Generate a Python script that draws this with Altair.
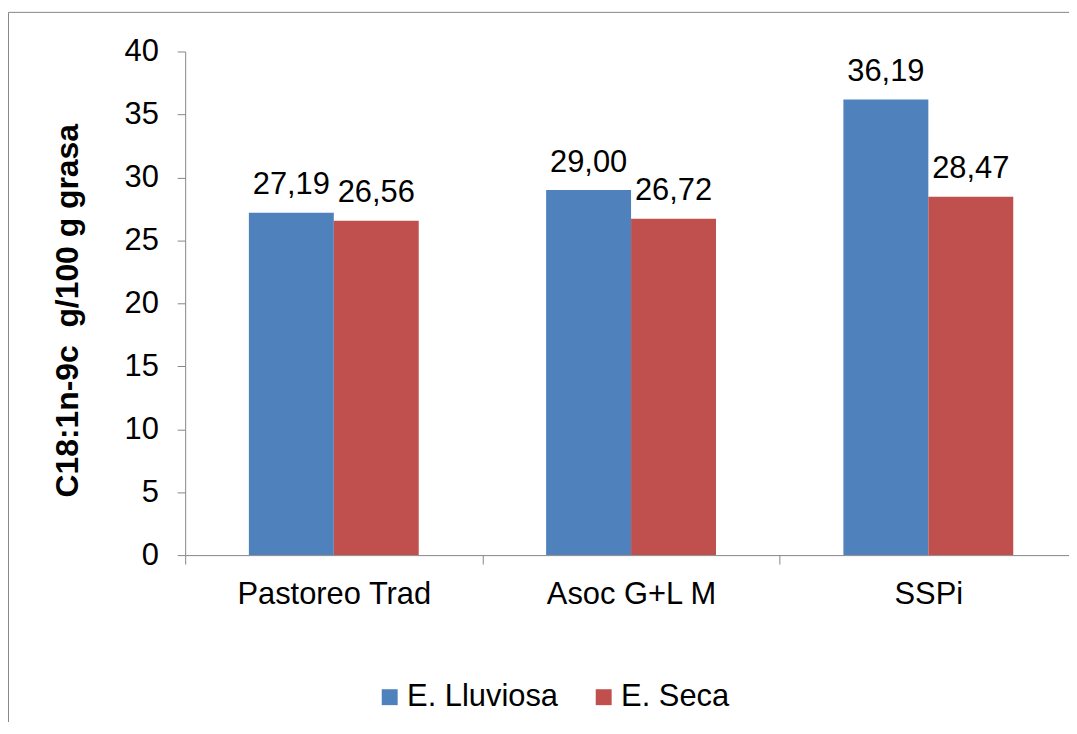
import altair as alt
import pandas as pd

categories = ["Pastoreo Trad", "Asoc G+L M", "SSPi"]
series = ["E. Lluviosa", "E. Seca"]
lluviosa = [27.19, 29.00, 36.19]
seca = [26.56, 26.72, 28.47]
colors = ["#4F81BD", "#C0504D"]
y_ticks = [0, 5, 10, 15, 20, 25, 30, 35, 40]
y_title = "C18:1n-9c\u00a0 g/100 g grasa"

rows = []
for c, a, b in zip(categories, lluviosa, seca):
    rows.append({"cat": c, "serie": series[0], "val": a})
    rows.append({"cat": c, "serie": series[1], "val": b})
df = pd.DataFrame(rows)
df["label"] = df["val"].map(lambda v: f"{v:.2f}".replace(".", ","))

FONT = "Liberation Sans"
GRAY = "#868686"

x_enc = alt.X(
    "cat:N",
    sort=categories,
    scale=alt.Scale(paddingInner=0, paddingOuter=0),
    axis=alt.Axis(
        title=None,
        tickBand="extent",
        labelAngle=0,
        labelFontSize=31,
        labelFont=FONT,
        labelColor="black",
        labelPadding=16,
        labelBaseline="top",
        labelLimit=400,
        tickSize=9,
        domainColor=GRAY,
        tickColor=GRAY,
        grid=False,
    ),
)
xoff_enc = alt.XOffset(
    "serie:N", sort=series, scale=alt.Scale(paddingInner=0, paddingOuter=0.75)
)
y_enc = alt.Y(
    "val:Q",
    scale=alt.Scale(domain=[0, 40], nice=False),
    axis=alt.Axis(
        values=y_ticks,
        title=y_title,
        titleFont=FONT,
        titleFontSize=32,
        titleFontWeight="bold",
        titleColor="black",
        titleAngle=270,
        titleAlign="center",
        titleBaseline="alphabetic",
        titleX=-108,
        titleY=260,
        labelFont=FONT,
        labelFontSize=31,
        labelColor="black",
        labelPadding=19,
        tickSize=8,
        domainColor=GRAY,
        tickColor=GRAY,
        grid=False,
    ),
)
color_enc = alt.Color(
    "serie:N",
    sort=series,
    scale=alt.Scale(domain=series, range=colors),
    legend=alt.Legend(
        title=None,
        orient="none",
        legendX=190,
        legendY=633,
        direction="horizontal",
        columns=2,
        symbolType="square",
        symbolSize=256,
        symbolStrokeWidth=0,
        labelFont=FONT,
        labelFontSize=31,
        labelColor="black",
        labelOffset=2,
        labelLimit=400,
        columnPadding=30,
        padding=0,
    ),
)

base = alt.Chart(df)
bars = base.mark_bar().encode(x=x_enc, xOffset=xoff_enc, y=y_enc, color=color_enc)
labels = base.mark_text(
    dy=-18.5, baseline="alphabetic", align="center", fontSize=31, font=FONT, color="black"
).encode(x=x_enc, xOffset=xoff_enc, y=y_enc, text="label:N")

frame = alt.Chart(pd.DataFrame({"k": [0]})).mark_rect(
    filled=False, stroke=GRAY, strokeWidth=1
).encode(
    x=alt.value(-177.5), x2=alt.value(2000), y=alt.value(-39.3), y2=alt.value(2000)
)

chart = (
    alt.layer(frame, bars, labels)
    .properties(
        width=896,
        height=506,
        autosize=alt.AutoSizeParams(type="none"),
        padding={"left": 178, "top": 42, "right": -8, "bottom": 166},
        background="white",
    )
    .configure_view(stroke=None)
)

chart.save("out.html", embed_options={"renderer": "svg", "actions": False})
